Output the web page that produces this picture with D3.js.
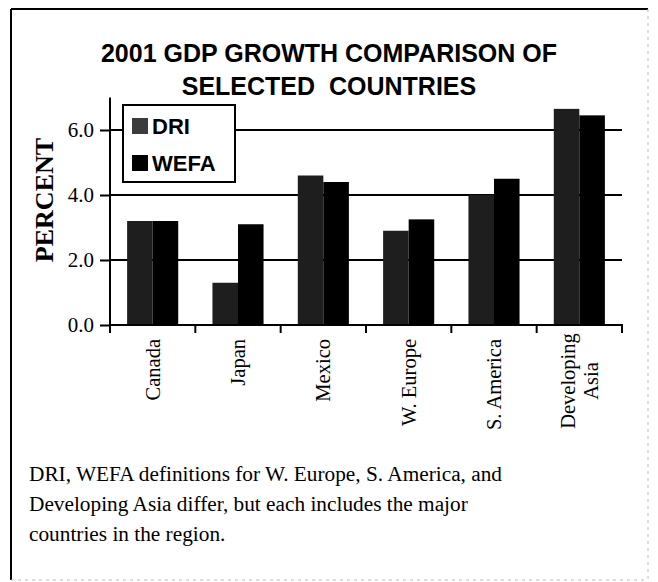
<!DOCTYPE html>
<html>
<head>
<meta charset="utf-8">
<script src="https://cdn.jsdelivr.net/npm/d3@7"></script>
<style>
  body { margin: 0; background: #fff; }
  svg { display: block; }
  .serif { font-family: "Liberation Serif", "DejaVu Serif", serif; }
  .sans { font-family: "Liberation Sans", Arial, sans-serif; font-weight: bold; }
</style>
</head>
<body>
<script>
// values
const countries = ["Canada", "Japan", "Mexico", "W. Europe", "S. America", "Developing Asia"];
const series = ["DRI", "WEFA"];
const dri = [3.2, 1.3, 4.6, 2.9, 4.0, 6.65];
const wefa = [3.2, 3.1, 4.4, 3.25, 4.5, 6.45];
const yTicks = [0, 2, 4, 6];
const noteLines = [
    "DRI, WEFA definitions for W. Europe, S. America, and",
    "Developing Asia differ, but each includes the major",
    "countries in the region."
];

const colors = { DRI: "#1e1e1e", WEFA: "#000000" };

const svg = d3.select("body").append("svg")
    .attr("width", 658)
    .attr("height", 582);

// outer frame (right/bottom edges are faint in the scan)
svg.append("line").attr("x1", 11).attr("y1", 9).attr("x2", 648).attr("y2", 9)
    .attr("stroke", "#000").attr("stroke-width", 2);
svg.append("line").attr("x1", 11).attr("y1", 9).attr("x2", 11).attr("y2", 580)
    .attr("stroke", "#000").attr("stroke-width", 2);
svg.append("line").attr("x1", 648).attr("y1", 9).attr("x2", 648).attr("y2", 580)
    .attr("stroke", "#bbb").attr("stroke-width", 1).attr("stroke-dasharray", "3,4");
svg.append("line").attr("x1", 11).attr("y1", 580).attr("x2", 648).attr("y2", 580)
    .attr("stroke", "#bbb").attr("stroke-width", 1).attr("stroke-dasharray", "3,4");

// title
svg.append("text")
    .attr("class", "sans")
    .attr("x", 329).attr("y", 62)
    .attr("text-anchor", "middle")
    .attr("font-size", 25)
    .text("2001 GDP GROWTH COMPARISON OF");
svg.append("text")
    .attr("class", "sans")
    .attr("x", 329).attr("y", 95)
    .attr("text-anchor", "middle")
    .attr("font-size", 25)
    .style("white-space", "pre")
    .text("SELECTED  COUNTRIES");

const x = d3.scaleBand()
    .domain(countries)
    .range([110, 622])
    .padding(0);

const xSub = d3.scaleBand()
    .domain(series)
    .range([0, x.bandwidth()])
    .paddingInner(0)
    .paddingOuter(0.67);

const y = d3.scaleLinear()
    .domain([0, 7])
    .range([325, 97.5]);

// gridlines
svg.append("g")
    .selectAll("line")
    .data(yTicks.filter(d => d > 0))
    .enter()
    .append("line")
    .attr("x1", 110)
    .attr("x2", 622)
    .attr("y1", d => y(d))
    .attr("y2", d => y(d))
    .attr("stroke", "#000")
    .attr("stroke-width", 2);

// bars
const rows = countries.map((c, i) => ({ country: c, DRI: dri[i], WEFA: wefa[i] }));
const groups = svg.append("g")
    .selectAll("g")
    .data(rows)
    .enter()
    .append("g")
    .attr("transform", d => `translate(${x(d.country)},0)`);

groups.selectAll("rect")
    .data(d => series.map(s => ({ key: s, value: d[s] })))
    .enter()
    .append("rect")
    .attr("x", d => xSub(d.key))
    .attr("y", d => y(d.value))
    .attr("width", xSub.bandwidth())
    .attr("height", d => y(0) - y(d.value))
    .attr("fill", d => colors[d.key]);

// y axis
const yAxis = svg.append("g")
    .attr("transform", "translate(110,0)")
    .call(d3.axisLeft(y).tickValues(yTicks).tickSize(10).tickFormat(d3.format(".1f")));
yAxis.select(".domain").attr("stroke-width", 2).attr("d", `M0,${y(7)}V${y(0)}`);
yAxis.selectAll(".tick line").attr("stroke-width", 2);
yAxis.selectAll(".tick text")
    .attr("class", "serif")
    .attr("font-size", 21)
    .attr("x", -16)
    .attr("fill", "#000");

// x axis
const xAxis = svg.append("g")
    .attr("transform", `translate(0,${y(0)})`)
    .call(d3.axisBottom(x).tickSize(0).tickFormat(""));
xAxis.select(".domain").attr("stroke-width", 2).attr("d", "M110,0H623");
xAxis.append("g")
    .selectAll("line")
    .data(countries.map(c => x(c)).concat([x.range()[1]]))
    .enter()
    .append("line")
    .attr("x1", d => d).attr("x2", d => d)
    .attr("y1", 0).attr("y2", 8)
    .attr("stroke", "#000")
    .attr("stroke-width", 2);

// category labels, rotated
const labels = svg.append("g")
    .selectAll("text")
    .data(countries)
    .enter()
    .append("text")
    .attr("class", "serif")
    .attr("font-size", 20.5)
    .attr("transform", d => `translate(${x(d) + x.bandwidth() / 2 + 7},${d === "Developing Asia" ? 381 : 339}) rotate(-90)`)
    .attr("text-anchor", d => d === "Developing Asia" ? "middle" : "end");

labels.each(function(d) {
    const t = d3.select(this);
    if (d === "Developing Asia") {
        t.append("tspan").attr("x", 0).attr("y", -11.5).text("Developing");
        t.append("tspan").attr("x", 0).attr("y", 11.5).text("Asia");
    } else {
        t.text(d);
    }
});

// y label
svg.append("text")
    .attr("class", "serif")
    .attr("font-weight", "bold")
    .attr("font-size", 26)
    .attr("text-anchor", "middle")
    .attr("transform", "translate(53,200) rotate(-90)")
    .text("PERCENT");

// legend
const legend = svg.append("g").attr("transform", "translate(123,105)");
legend.append("rect")
    .attr("width", 112).attr("height", 77)
    .attr("fill", "#fff")
    .attr("stroke", "#000")
    .attr("stroke-width", 2);
legend.selectAll(".sw")
    .data(series)
    .enter()
    .append("rect")
    .attr("class", "sw")
    .attr("x", 9)
    .attr("y", (_, i) => 13 + i * 37)
    .attr("width", 16).attr("height", 16)
    .attr("fill", d => d === "DRI" ? "#3c3c3c" : colors[d]);
legend.selectAll("text")
    .data(series)
    .enter()
    .append("text")
    .attr("class", "sans")
    .attr("font-size", 22)
    .attr("x", 29)
    .attr("y", (_, i) => 29 + i * 37)
    .text(d => d);

// footnote
svg.append("g")
    .selectAll("text")
    .data(noteLines)
    .enter()
    .append("text")
    .attr("class", "serif")
    .attr("font-size", 21.3)
    .attr("x", 29)
    .attr("y", (_, i) => 481 + i * 30)
    .text(d => d);
</script>
</body>
</html>
